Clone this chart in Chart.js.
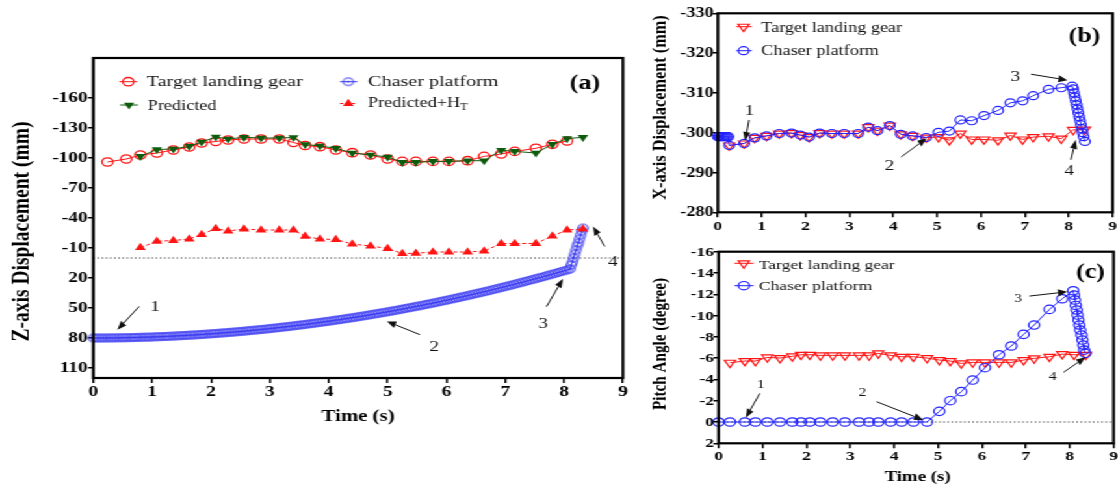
<!DOCTYPE html>
<html>
<head>
<meta charset="utf-8">
<script src="https://cdn.jsdelivr.net/npm/chart.js@4.4.0/dist/chart.umd.min.js"></script>
<style>
  html, body { margin: 0; padding: 0; background: #fff; overflow: hidden; }
  /* the whole figure is drawn with a wide horizontal aspect */
  #stage { position: absolute; left: 0; top: 0; width: 861px; height: 486px;
           transform: scaleX(1.3); transform-origin: 0 0; }
  #stage canvas { position: absolute; }
</style>
</head>
<body>
<div id="stage">
  <canvas id="panelA"></canvas>
  <canvas id="panelB"></canvas>
  <canvas id="panelC"></canvas>
</div>
<script>
const SCALE_X = 1.3;          // horizontal stretch of the stage
const TITLE_STRETCH = 1.22;   // on-screen width factor for the rotated axis titles
const SERIF = '"Liberation Serif", "Times New Roman", serif';

// ---------- (a) Z-axis displacement ----------
const timeTargetA = [0.24,0.56,0.80,1.08,1.36,1.63,1.84,2.08,2.29,2.56,2.85,3.16,3.40,3.60,3.85,
                     4.12,4.40,4.71,5.00,5.25,5.48,5.77,6.04,6.36,6.64,6.93,7.16,7.52,7.80,8.05];
const targetZ = [-96,-99,-103,-105,-108,-111,-115,-116.5,-118,-119,-119,-119,-115.5,-112.5,-111.3,
                 -108,-105.3,-103,-99,-96.6,-96.6,-96.6,-96.6,-97.3,-101.6,-104,-106.6,-109.7,-113.7,-117];
const timePredA = [0.80,1.08,1.36,1.63,1.84,2.08,2.29,2.56,2.85,3.16,3.40,3.60,3.85,4.12,4.40,
                   4.71,5.00,5.25,5.48,5.77,6.04,6.36,6.64,6.93,7.16,7.52,7.80,8.05,8.32];
const predictedZ = [-101.6,-108.5,-109,-111.7,-116,-121,-119,-120.7,-120,-120,-120.5,-113.5,-112,-109.7,-105,
                    -103,-101,-95.6,-95.6,-96.6,-96.6,-97.3,-97.3,-107.7,-106.6,-105,-113.7,-119.4,-120.7];
const predictedHtZ = [-10.4,-16.7,-17.5,-19,-23.5,-29.5,-27,-29,-28,-28,-28,-21.6,-19,-18.5,-14,
                      -12,-9.5,-4.5,-4.7,-6,-6,-6,-7,-14.5,-14.5,-14.5,-22,-28,-29];
const chaserZTime = [
  0,0.05,0.1,0.15,0.2,0.25,0.3,0.35,0.4,0.45,
  0.5,0.55,0.6,0.65,0.7,0.75,0.8,0.85,0.9,0.95,
  1,1.05,1.1,1.15,1.2,1.25,1.3,1.35,1.4,1.45,
  1.5,1.55,1.6,1.65,1.7,1.75,1.8,1.85,1.9,1.95,
  2,2.05,2.1,2.15,2.2,2.25,2.3,2.35,2.4,2.45,
  2.5,2.55,2.6,2.65,2.7,2.75,2.8,2.85,2.9,2.95,
  3,3.05,3.1,3.15,3.2,3.25,3.3,3.35,3.4,3.45,
  3.5,3.55,3.6,3.65,3.7,3.75,3.8,3.85,3.9,3.95,
  4,4.05,4.1,4.15,4.2,4.25,4.3,4.35,4.4,4.45,
  4.5,4.55,4.6,4.65,4.7,4.75,4.8,4.85,4.9,4.95,
  5,5.05,5.1,5.15,5.2,5.25,5.3,5.35,5.4,5.45,
  5.5,5.55,5.6,5.65,5.7,5.75,5.8,5.85,5.9,5.95,
  6,6.05,6.1,6.15,6.2,6.25,6.3,6.35,6.4,6.45,
  6.5,6.55,6.6,6.65,6.7,6.75,6.8,6.85,6.9,6.95,
  7,7.05,7.1,7.15,7.2,7.25,7.3,7.35,7.4,7.45,
  7.5,7.55,7.6,7.65,7.7,7.75,7.8,7.85,7.9,7.95,
  8,8.05,8.1,
  8.12,8.14,8.16,8.18,8.2,8.22,8.24,8.26,8.28,8.3,8.32];
const chaserZ = [
  80,80,80,80,80,79.9,79.9,79.9,79.8,79.8,
  79.7,79.7,79.6,79.6,79.5,79.4,79.3,79.2,79.1,79.1,
  79,78.8,78.7,78.6,78.5,78.4,78.2,78.1,77.9,77.8,
  77.6,77.5,77.3,77.1,77,76.8,76.6,76.4,76.2,76,
  75.8,75.6,75.4,75.1,74.9,74.7,74.4,74.2,74,73.7,
  73.4,73.2,72.9,72.6,72.3,72.1,71.8,71.5,71.2,70.9,
  70.6,70.2,69.9,69.6,69.2,68.9,68.6,68.2,67.9,67.5,
  67.1,66.8,66.4,66,65.6,65.2,64.8,64.4,64,63.6,
  63.2,62.8,62.3,61.9,61.5,61,60.6,60.1,59.7,59.2,
  58.7,58.3,57.8,57.3,56.8,56.3,55.8,55.3,54.8,54.3,
  53.8,53.2,52.7,52.2,51.6,51.1,50.5,49.9,49.4,48.8,
  48.2,47.7,47.1,46.5,45.9,45.3,44.7,44.1,43.4,42.8,
  42.2,41.6,40.9,40.3,39.6,39,38.3,37.7,37,36.3,
  35.6,35,34.3,33.6,32.9,32.2,31.4,30.7,30,29.3,
  28.6,27.8,27.1,26.3,25.6,24.8,24,23.3,22.5,21.7,
  20.9,20.1,19.4,18.6,17.7,16.9,16.1,15.3,14.5,13.6,
  12.8,12,11.1,
  7,4,0,-4,-8,-12,-15,-19,-23,-27,-30];
const zTicks = [-160,-130,-100,-70,-40,-10,20,50,80,110];

// ---------- (b) X-axis displacement, (c) pitch angle ----------
const timeTarget = [0.26,0.60,0.84,1.11,1.40,1.68,1.88,2.08,2.32,2.60,2.88,3.20,3.43,3.64,3.92,4.17,
                    4.44,4.75,5.03,5.28,5.53,5.79,6.07,6.39,6.67,6.95,7.19,7.54,7.83,8.10,8.37];
const targetX = [-296.8,-297.3,-298.7,-299.2,-299.8,-299.9,-299.4,-298.9,-299.9,-299.8,-299.8,-299.8,
                 -301.4,-300.5,-301.8,-299.6,-299.2,-298.8,-298.9,-298.1,-299.8,-298.3,-298.3,-298.1,
                 -299.3,-298.3,-298.9,-299.1,-298.5,-300.7,-300.8];
const chaserXTime = [0,0.03,0.06,0.09,0.12,0.15,0.18,0.21,0.24,
                     0.26,0.60,0.84,1.11,1.40,1.68,1.88,2.08,2.32,2.60,2.88,3.20,3.43,3.64,3.92,4.17,4.44,4.75,
                     5.03,5.28,5.53,5.79,6.07,6.39,6.67,6.95,7.19,7.54,7.83,8.08,
                     8.10,8.12,8.14,8.16,8.18,8.20,8.22,8.24,8.26,8.28,8.30,8.32,8.34,8.37];
const chaserX = [-299,-299,-299,-299,-299,-299,-299,-299,-299,
                 -296.8,-297.3,-298.7,-299.2,-299.8,-299.9,-299.4,-298.9,-299.9,-299.8,-299.8,-299.8,
                 -301.4,-300.5,-301.8,-299.6,-299.2,-298.8,
                 -300.1,-300.4,-303.2,-303,-304.3,-305.6,-307.5,-308,-309.3,-310.9,-311.3,-311.7,
                 -311,-310,-309,-308,-307,-306,-305,-304,-303,-302,-301,-300,-299,-297.8];
const targetPitch = [-5.57,-5.73,-5.73,-6.07,-6.01,-6.17,-6.32,-6.32,-6.26,-6.26,-6.26,-6.26,-6.26,
                     -6.45,-6.26,-6.13,-6.13,-6.01,-5.82,-5.73,-5.51,-5.60,-5.60,-5.60,-5.60,-5.82,
                     -5.98,-6.13,-6.38,-6.32,-6.32];
const chaserPitchTime = [0,0.26,0.60,0.84,1.11,1.40,1.68,1.88,2.08,2.32,2.60,2.88,3.20,3.43,3.64,3.92,4.17,4.44,4.75,
                         5.03,5.28,5.53,5.79,6.07,6.39,6.67,6.95,7.19,7.54,7.83,8.08,
                         8.10,8.12,8.14,8.16,8.18,8.20,8.22,8.24,8.27,8.29,8.31,8.33,8.36];
const chaserPitch = [0,0,0,0,0,0,0,0,0,0,0,0,0,0,0,0,0,0,0,
                     -1.0,-2.0,-2.85,-3.94,-5.1,-6.32,-7.14,-8.23,-9.11,-10.58,-11.58,-12.33,
                     -11.92,-11.46,-10.95,-10.52,-10.05,-9.58,-9.11,-8.64,-8.17,-7.70,-7.23,-6.76,-6.45];

// ---------- styles ----------
const RED = '#ff1414', GREEN = '#0d5c0d', BLUE_A = '#3a3af2', BLUE = '#2323ff';

function ringDot(color, r, lw) {
  const c = document.createElement('canvas');
  const s = Math.ceil(2 * r + lw + 2);
  c.width = c.height = s;
  const g = c.getContext('2d');
  g.strokeStyle = color; g.lineWidth = lw;
  g.beginPath(); g.arc(s / 2, s / 2, r, 0, 2 * Math.PI); g.stroke();
  g.fillStyle = color;
  g.beginPath(); g.arc(s / 2, s / 2, 0.9, 0, 2 * Math.PI); g.fill();
  return c;
}

const mTargetA  = { style: 'circle', r: 4.2, stroke: RED, bw: 1.3 };
const mPred     = { style: 'triangle', rot: 180, r: 4.6, fill: GREEN };
const mPredHt   = { style: 'triangle', r: 4.8, fill: RED };
const mChaserA  = { image: ringDot(BLUE_A, 3.8, 1.1), r: 4 };
const mTargetB  = { style: 'triangle', rot: 180, r: 4.9, stroke: RED, bw: 1.2 };
const mChaserB  = { style: 'circle', r: 4, stroke: BLUE, bw: 1.2 };
const mTargetC  = { style: 'triangle', rot: 180, r: 4.9, stroke: RED, bw: 1.2 };
const mChaserC  = { style: 'circle', r: 4.2, stroke: BLUE, bw: 1.2 };

function font(size, bold) { return (bold ? 'bold ' : '') + size + 'px ' + SERIF; }
function pts(xs, ys) { return xs.map((x, i) => ({ x: x, y: ys[i] })); }

function series(label, xs, ys, m, color, extra) {
  return Object.assign({
    label: label,
    data: pts(xs, ys),
    borderColor: color,
    borderWidth: 1,
    tension: 0,
    clip: false,
    pointStyle: m.image || (m.style === 'circle' ? 'circle' : 'triangle'),
    pointRotation: m.rot || 0,
    pointRadius: m.r,
    pointBackgroundColor: m.fill || 'rgba(0,0,0,0)',
    pointBorderColor: m.stroke || m.fill || color,
    pointBorderWidth: m.bw || 0
  }, extra || {});
}

function drawMarker(ctx, m, x, y) {
  if (m.image) { ctx.drawImage(m.image, x - m.image.width / 2, y - m.image.height / 2); return; }
  ctx.beginPath();
  if (m.style === 'circle') {
    ctx.arc(x, y, m.r, 0, 2 * Math.PI);
  } else {
    const s = m.rot ? -1 : 1;
    ctx.moveTo(x, y - s * m.r);
    ctx.lineTo(x + 0.866 * m.r, y + s * 0.5 * m.r);
    ctx.lineTo(x - 0.866 * m.r, y + s * 0.5 * m.r);
    ctx.closePath();
  }
  if (m.fill) { ctx.fillStyle = m.fill; ctx.fill(); }
  if (m.stroke) { ctx.strokeStyle = m.stroke; ctx.lineWidth = m.bw; ctx.stroke(); }
}

// arrow whose head is shaped in on-screen proportions
function arrow(ctx, x1, y1, x2, y2) {
  const S = SCALE_X;
  const X1 = x1 * S, X2 = x2 * S;
  const dx = X2 - X1, dy = y2 - y1, len = Math.hypot(dx, dy);
  const ux = dx / len, uy = dy / len, head = 9, half = 3.6;
  const bx = X2 - ux * head, by = y2 - uy * head;
  ctx.strokeStyle = '#111'; ctx.fillStyle = '#111'; ctx.lineWidth = 1;
  ctx.beginPath(); ctx.moveTo(x1, y1); ctx.lineTo(bx / S, by); ctx.stroke();
  ctx.beginPath();
  ctx.moveTo(x2, y2);
  ctx.lineTo((bx - uy * half) / S, by + ux * half);
  ctx.lineTo((bx + uy * half) / S, by - ux * half);
  ctx.closePath(); ctx.fill();
}

function decor(spec) {
  const S = SCALE_X, box = spec.box;
  const px = v => (v - box.x) / S, py = v => v - box.y;
  return {
    id: 'decor',
    beforeDatasetsDraw(chart) {
      if (!spec.zeroLine) return;
      const ctx = chart.ctx, a = chart.chartArea;
      const y = chart.scales.y.getPixelForValue(0);
      ctx.save();
      ctx.strokeStyle = '#333'; ctx.lineWidth = 1; ctx.setLineDash([1.2, 2]);
      ctx.beginPath(); ctx.moveTo(a.left, y); ctx.lineTo(a.right, y); ctx.stroke();
      ctx.restore();
    },
    afterDatasetsDraw(chart) {
      const ctx = chart.ctx, a = chart.chartArea;
      const xs = chart.scales.x, ys = chart.scales.y;
      ctx.save();
      // frame
      ctx.strokeStyle = '#000'; ctx.lineWidth = 2.2;
      ctx.strokeRect(a.left, a.top, a.right - a.left, a.bottom - a.top);

      // tick labels
      ctx.fillStyle = '#000';
      ctx.font = font(spec.xTickSize, true); ctx.textAlign = 'center'; ctx.textBaseline = 'alphabetic';
      xs.ticks.forEach(t => ctx.fillText(String(t.value), xs.getPixelForValue(t.value), py(spec.xTickBase)));
      ctx.font = font(spec.yTickSize, true); ctx.textAlign = 'right'; ctx.textBaseline = 'middle';
      ys.ticks.forEach(t => ctx.fillText(String(t.value), px(spec.yTickRight), ys.getPixelForValue(t.value) + 0.5));

      // axis titles
      const yt = spec.yTitle;
      ctx.save();
      ctx.translate(px(yt.x), py(yt.y)); ctx.scale(TITLE_STRETCH / S, 1); ctx.rotate(-Math.PI / 2);
      ctx.font = font(yt.size, true); ctx.textAlign = 'center'; ctx.textBaseline = 'alphabetic';
      ctx.fillText(yt.text, 0, 0);
      ctx.restore();
      if (spec.xTitle) {
        const xt = spec.xTitle;
        ctx.font = font(xt.size, true); ctx.textAlign = 'center'; ctx.textBaseline = 'alphabetic';
        ctx.fillText(xt.text, px(xt.x), py(xt.y));
      }

      // panel tag
      ctx.font = font(spec.tag.size, true); ctx.textAlign = 'center'; ctx.textBaseline = 'alphabetic';
      ctx.fillText(spec.tag.text, px(spec.tag.x), py(spec.tag.y));

      // legend
      spec.legend.forEach(it => {
        ctx.save();
        ctx.strokeStyle = it.color; ctx.lineWidth = 1;
        if (it.dashed) ctx.setLineDash([2.5, 2]);
        ctx.beginPath(); ctx.moveTo(px(it.x1), py(it.my)); ctx.lineTo(px(it.x2), py(it.my)); ctx.stroke();
        ctx.setLineDash([]);
        drawMarker(ctx, it.marker, px(it.mx), py(it.my));
        ctx.fillStyle = '#111'; ctx.font = font(it.size, false);
        ctx.textAlign = 'left'; ctx.textBaseline = 'alphabetic';
        ctx.fillText(it.label, px(it.tx), py(it.base));
        if (it.sub) {
          const w = ctx.measureText(it.label).width;
          ctx.font = font(it.size * 0.68, false);
          ctx.fillText(it.sub, px(it.tx) + w, py(it.base) + it.size * 0.28);
        }
        ctx.restore();
      });

      // numbered call-outs
      ctx.font = font(spec.annSize, false); ctx.textAlign = 'center'; ctx.textBaseline = 'middle';
      spec.notes.forEach(n => {
        ctx.fillStyle = '#111';
        ctx.fillText(n.text, xs.getPixelForValue(n.at[0]), ys.getPixelForValue(n.at[1]));
        arrow(ctx, xs.getPixelForValue(n.from[0]), ys.getPixelForValue(n.from[1]),
                   xs.getPixelForValue(n.to[0]), ys.getPixelForValue(n.to[1]));
      });
      ctx.restore();
    }
  };
}

function buildPanel(id, spec) {
  const S = SCALE_X, box = spec.box;
  const W = Math.round(box.w / S), H = box.h;
  const cv = document.getElementById(id);
  cv.width = W; cv.height = H;
  cv.style.left = (box.x / S) + 'px'; cv.style.top = box.y + 'px';
  cv.style.width = W + 'px'; cv.style.height = H + 'px';
  const L = (spec.area.l - box.x) / S, R = (spec.area.r - box.x) / S;
  const T = spec.area.t - box.y, B = spec.area.b - box.y;
  const tickGrid = (len) => ({ display: true, drawOnChartArea: false, drawTicks: true,
                               tickLength: len, color: '#000', lineWidth: 1.5 });
  const yAxis = {
    type: 'linear', reverse: true, min: spec.y.min, max: spec.y.max,
    ticks: { display: false, stepSize: spec.y.step },
    grid: tickGrid(4), border: { display: false },
    afterFit(s) { s.width = L; }
  };
  if (spec.y.ticks) yAxis.afterBuildTicks = s => { s.ticks = spec.y.ticks.map(v => ({ value: v })); };
  return new Chart(cv, {
    type: 'line',
    data: { datasets: spec.datasets },
    options: {
      responsive: false, animation: false, devicePixelRatio: 1,
      layout: { autoPadding: false, padding: { left: 0, top: T, right: W - R, bottom: 0 } },
      plugins: { legend: { display: false }, tooltip: { enabled: false } },
      scales: {
        x: {
          type: 'linear', min: 0, max: 9,
          ticks: { display: false, stepSize: 1 },
          grid: tickGrid(5), border: { display: false },
          afterFit(s) { s.height = H - B; }
        },
        y: yAxis
      }
    },
    plugins: [decor(spec)]
  });
}

// ---------- panel (a) ----------
buildPanel('panelA', {
  box: { x: 0, y: 0, w: 640, h: 486 },
  area: { l: 93.3, r: 623, t: 58, b: 378 },
  y: { min: -200, max: 120, ticks: zTicks },
  zeroLine: true,
  datasets: [
    series('Predicted', timePredA, predictedZ, mPred, GREEN, { order: 0 }),
    series('Predicted+HT', timePredA, predictedHtZ, mPredHt, RED, { order: 1, borderDash: [3, 2] }),
    series('Target landing gear', timeTargetA, targetZ, mTargetA, RED, { order: 2 }),
    series('Chaser platform', chaserZTime, chaserZ, mChaserA, BLUE_A, { order: 3 })
  ],
  xTickSize: 15, xTickBase: 396, yTickSize: 14.8, yTickRight: 87.5,
  yTitle: { text: 'Z-axis Displacement (mm)', x: 29, y: 231.5, size: 19.5 },
  xTitle: { text: 'Time (s)', x: 358, y: 421, size: 16 },
  tag: { text: '(a)', x: 585, y: 89, size: 20 },
  legend: [
    { label: 'Target landing gear', marker: mTargetA, color: RED, x1: 119.3, x2: 137.3, mx: 128.3, my: 81.7, tx: 146.7, base: 85.5, size: 15.5 },
    { label: 'Predicted', marker: mPred, color: GREEN, x1: 120, x2: 138, mx: 129, my: 105, tx: 147.7, base: 110, size: 14 },
    { label: 'Chaser platform', marker: mChaserA, color: BLUE_A, x1: 340, x2: 357.3, mx: 348.3, my: 81.7, tx: 368, base: 85.5, size: 15.5 },
    { label: 'Predicted+H', sub: 'T', marker: mPredHt, color: RED, dashed: true, x1: 340, x2: 357.3, mx: 348.3, my: 103.5, tx: 368, base: 106.5, size: 14 }
  ],
  annSize: 15,
  notes: [
    { text: '1', at: [1.05, 48.7], from: [0.78, 48.4], to: [0.41, 71.7] },
    { text: '2', at: [5.79, 89], from: [5.55, 76.7], to: [4.99, 63.4] },
    { text: '3', at: [7.64, 65.7], from: [7.70, 48.7], to: [7.98, 20.7] },
    { text: '4', at: [8.83, 4], from: [8.69, -11.6], to: [8.49, -31.6] }
  ]
});

// ---------- panel (b) ----------
buildPanel('panelB', {
  box: { x: 640, y: 0, w: 479, h: 240 },
  area: { l: 718.3, r: 1113, t: 13.3, b: 212.3 },
  y: { min: -330, max: -280, step: 10 },
  datasets: [
    series('Chaser platform', chaserXTime, chaserX, mChaserB, BLUE, { order: 0 }),
    series('Target landing gear', timeTarget, targetX, mTargetB, RED, { order: 1 })
  ],
  xTickSize: 13.5, xTickBase: 230, yTickSize: 14, yTickRight: 714,
  yTitle: { text: 'X-axis Displacement (mm)', x: 666, y: 107.5, size: 16.3 },
  tag: { text: '(b)', x: 1085, y: 42, size: 20 },
  legend: [
    { label: 'Target landing gear', marker: mTargetB, color: RED, x1: 736.7, x2: 752.3, mx: 744, my: 26.7, tx: 761.7, base: 31.5, size: 14 },
    { label: 'Chaser platform', marker: mChaserB, color: BLUE, x1: 736.7, x2: 752.3, mx: 744, my: 50.7, tx: 761.7, base: 55, size: 14 }
  ],
  annSize: 15,
  notes: [
    { text: '1', at: [0.72, -305.4], from: [0.71, -303.2], to: [0.62, -297.9] },
    { text: '2', at: [3.91, -291.5], from: [4.18, -293.9], to: [4.76, -298.6] },
    { text: '3', at: [6.78, -314], from: [7.14, -314.7], to: [7.97, -313.2] },
    { text: '4', at: [8.01, -290.3], from: [8.05, -293.2], to: [8.16, -298.2] }
  ]
});

// ---------- panel (c) ----------
buildPanel('panelC', {
  box: { x: 640, y: 240, w: 479, h: 246 },
  area: { l: 719, r: 1114, t: 251.7, b: 443.3 },
  y: { min: -16, max: 2, step: 2 },
  zeroLine: true,
  datasets: [
    series('Chaser platform', chaserPitchTime, chaserPitch, mChaserC, BLUE, { order: 0 }),
    series('Target landing gear', timeTarget, targetPitch, mTargetC, RED, { order: 1 })
  ],
  xTickSize: 13.5, xTickBase: 459.5, yTickSize: 13.5, yTickRight: 714.5,
  yTitle: { text: 'Pitch Angle (degree)', x: 666.5, y: 344, size: 15.2 },
  xTitle: { text: 'Time (s)', x: 918, y: 481, size: 14.5 },
  tag: { text: '(c)', x: 1091, y: 278, size: 20 },
  legend: [
    { label: 'Target landing gear', marker: mTargetC, color: RED, x1: 735, x2: 754, mx: 744.3, my: 263.3, tx: 759.3, base: 269, size: 13.5 },
    { label: 'Chaser platform', marker: mChaserC, color: BLUE, x1: 735, x2: 754, mx: 744.3, my: 285.7, tx: 759.3, base: 290, size: 13.5 }
  ],
  annSize: 12,
  notes: [
    { text: '1', at: [0.96, -3.47], from: [0.94, -2.69], to: [0.62, -0.4] },
    { text: '2', at: [3.28, -2.75], from: [3.60, -1.91], to: [4.66, -0.19] },
    { text: '3', at: [6.83, -11.6], from: [7.08, -11.83], to: [7.94, -12.23] },
    { text: '4', at: [7.61, -4.25], from: [7.86, -4.67], to: [8.36, -6.08] }
  ]
});
</script>
</body>
</html>
